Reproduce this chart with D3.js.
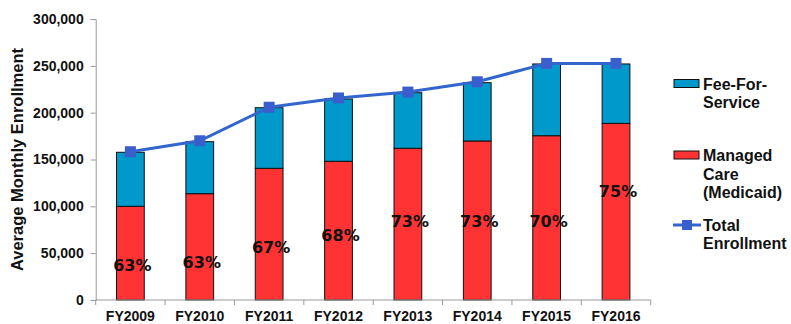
<!DOCTYPE html>
<html><head><meta charset="utf-8">
<script src="https://cdn.jsdelivr.net/npm/d3@7"></script>
<style>body{margin:0;background:#fff}svg{display:block}</style>
</head><body>
<svg id="c" width="791" height="324"></svg>
<script>
const categories = ["FY2009","FY2010","FY2011","FY2012","FY2013","FY2014","FY2015","FY2016"];
const managedCare = [100000,113500,140600,148100,162000,169800,175400,188600];
const feeForService = [57700,55500,64700,66500,59300,62200,76600,63400];
const totalEnrollment = [158300,170000,205800,215700,222000,233000,252600,252600];
const pctLabels = ["63%","63%","67%","68%","73%","73%","70%","75%"];
const pctLabelAt = [37000,40500,56500,69500,83500,83500,83500,115500];
const yTicks = [0,50000,100000,150000,200000,250000,300000];

const svg = d3.select("#c");
const m = {l:96, r:140, t:19, b:24};
const W = 791, H = 324;
const x = d3.scaleBand().domain(categories).range([95.7, 650.7]).paddingInner(0.6).paddingOuter(0.3);
const y = d3.scaleLinear().domain([0,300000]).range([300, 19]);

// bars
const g = svg.append("g");
categories.forEach((c,i)=>{
  const bx = x(c), bw = x.bandwidth();
  g.append("rect").attr("x",bx).attr("y",y(managedCare[i])).attr("width",bw)
    .attr("height",y(0)-y(managedCare[i])).attr("fill","#FF3333").attr("stroke","#111").attr("stroke-width",1);
  const top = managedCare[i]+feeForService[i];
  g.append("rect").attr("x",bx).attr("y",y(top)).attr("width",bw)
    .attr("height",y(managedCare[i])-y(top)).attr("fill","#0099CC").attr("stroke","#111").attr("stroke-width",1);
});

// axes
const yAxis = d3.axisLeft(y).tickValues(yTicks).tickSize(5).tickPadding(7).tickFormat(d3.format(","));
const ya = svg.append("g").attr("transform","translate(95.7,0)").call(yAxis);
ya.select(".domain").attr("stroke","#999");
ya.selectAll(".tick line").attr("stroke","#999");
ya.selectAll("text").attr("font-family","'Liberation Sans',Arial,sans-serif").attr("font-weight","bold").attr("font-size","14px").attr("fill","#111");

const xa = svg.append("g").attr("transform","translate(0,300)");
xa.append("line").attr("x1",95.7).attr("x2",650.7).attr("y1",0).attr("y2",0).attr("stroke","#999");
const step = x.step();
d3.range(categories.length+1).forEach(i=>{
  const xx = 95.7 + i*step;
  xa.append("line").attr("x1",xx).attr("x2",xx).attr("y1",0).attr("y2",5).attr("stroke","#999");
});
categories.forEach(c=>{
  xa.append("text").attr("x",x(c)+x.bandwidth()/2).attr("y",21).attr("text-anchor","middle")
    .attr("font-family","'Liberation Sans',Arial,sans-serif").attr("font-weight","bold").attr("font-size","14px").attr("fill","#111").text(c);
});

// y title
svg.append("text").attr("transform","translate(23,159.5) rotate(-90)").attr("text-anchor","middle")
  .attr("font-family","'Liberation Sans',Arial,sans-serif").attr("font-weight","bold").attr("font-size","16.5px").attr("fill","#111")
  .text("Average Monthly Enrollment");

// line
const line = d3.line().x((d,i)=>x(categories[i])+x.bandwidth()/2).y(d=>y(d));
svg.append("path").datum(totalEnrollment).attr("d",line).attr("fill","none").attr("stroke","#3366CC").attr("stroke-width",3);
svg.selectAll(".mk").data(totalEnrollment).enter().append("rect")
  .attr("x",(d,i)=>x(categories[i])+x.bandwidth()/2-5.5).attr("y",d=>y(d)-5.5)
  .attr("width",11).attr("height",11).attr("fill","#3A5FCD");

// pct labels
pctLabels.forEach((p,i)=>{
  svg.append("text").attr("x",x(categories[i])+x.bandwidth()/2+2).attr("y",y(pctLabelAt[i])).attr("dy","0.35em")
    .attr("text-anchor","middle").attr("font-family","'DejaVu Sans',Verdana,sans-serif").attr("font-weight","bold")
    .attr("font-size","16px").attr("fill","#111").text(p);
});

// legend
const lf = "'Liberation Sans',Arial,sans-serif";
const leg = svg.append("g");
leg.append("rect").attr("x",674).attr("y",79.5).attr("width",25).attr("height",8).attr("fill","#0099CC").attr("stroke","#111");
leg.append("rect").attr("x",674).attr("y",151).attr("width",25).attr("height",8).attr("fill","#FF3333").attr("stroke","#111");
leg.append("line").attr("x1",673).attr("x2",701).attr("y1",225).attr("y2",225).attr("stroke","#3366CC").attr("stroke-width",3);
leg.append("rect").attr("x",682).attr("y",220).attr("width",10).attr("height",10).attr("fill","#3A5FCD");
const legText = [["Fee-For-",89.5],["Service",108],["Managed",161],["Care",179.5],["(Medicaid)",198],["Total",230.5],["Enrollment",249]];
legText.forEach(([t,yy])=>{
  leg.append("text").attr("x",703).attr("y",yy).attr("font-family",lf).attr("font-weight","bold").attr("font-size","16px").attr("fill","#111").text(t);
});
</script>
</body></html>
